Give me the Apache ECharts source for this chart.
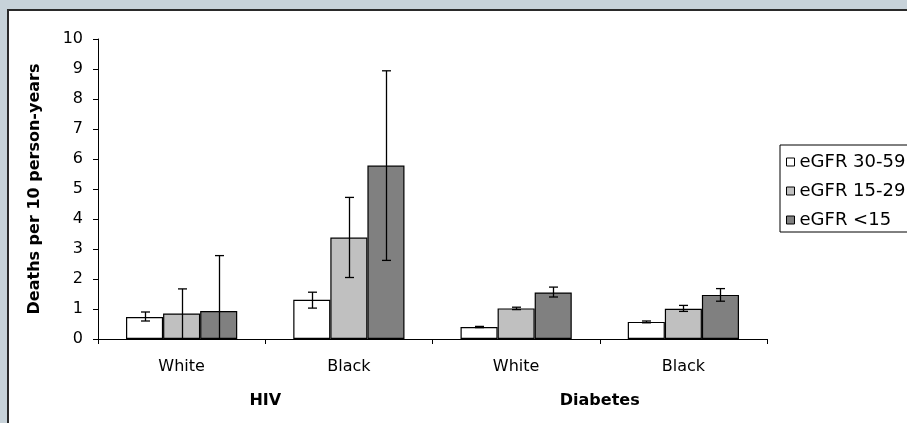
<!DOCTYPE html>
<html><head><meta charset="utf-8">
<script src="https://cdn.jsdelivr.net/npm/echarts/dist/echarts.min.js"></script>
<style>
html,body{margin:0;padding:0;width:907px;height:423px;overflow:hidden;background:#c7d2d9;}
#panel{position:absolute;left:7px;top:9px;width:1000px;height:500px;background:#fff;border-left:2px solid #2a2a2a;border-top:2px solid #2a2a2a;}
#chart{position:absolute;left:0;top:0;width:907px;height:423px;}
</style></head><body><div id="panel"></div><div id="chart"></div>
<script>
const races = ['White', 'Black', 'White', 'Black'];
const groups = ['HIV', 'Diabetes'];
const seriesNames = ['eGFR 30-59', 'eGFR 15-29', 'eGFR <15'];
const yTicks = [0, 10, 1];

const egfr3059 = [0.73, 1.31, 0.40, 0.57];
const egfr1529 = [0.85, 3.38, 1.02, 1.01];
const egfrLt15 = [0.93, 5.78, 1.55, 1.47];

const low3059 = [0.60, 1.03, 0.38, 0.54];
const high3059 = [0.90, 1.56, 0.42, 0.60];
const low1529 = [0.00, 2.05, 0.98, 0.92];
const high1529 = [1.67, 4.72, 1.06, 1.12];
const lowLt15 = [0.00, 2.62, 1.40, 1.26];
const highLt15 = [2.78, 8.94, 1.73, 1.68];

const FONT = 'DejaVu Sans';
const catGap = 0.335;
const colors = ['#ffffff', '#c0c0c0', '#808080'];
const values = [egfr3059, egfr1529, egfrLt15];
const lows = [low3059, low1529, lowLt15];
const highs = [high3059, high1529, highLt15];

function barSeries(k) {
  return {
    type: 'bar', name: seriesNames[k], data: values[k],
    barGap: '0%', barCategoryGap: (catGap * 100) + '%',
    itemStyle: { color: colors[k], borderColor: '#000', borderWidth: 1.2 },
    emphasis: { disabled: true }, z: 2
  };
}
function errSeries(k) {
  return {
    type: 'custom', name: 'err' + k, z: 10,
    encode: { x: 0, y: [1, 2] },
    data: lows[k].map((l, i) => [i, l, highs[k][i]]),
    renderItem: function (params, api) {
      const ci = api.value(0);
      const band = api.size([1, 0])[0];
      const bw = band * (1 - catGap) / 3;
      const p0 = api.coord([ci, api.value(1)]);
      const p1 = api.coord([ci, api.value(2)]);
      const x = Math.round(p0[0] + (k - 1) * bw) + 0.5;
      const h = 4.5;
      const st = { stroke: '#000', lineWidth: 1.3 };
      return { type: 'group', children: [
        { type: 'line', shape: { x1: x, y1: p0[1], x2: x, y2: p1[1] }, style: st },
        { type: 'line', shape: { x1: x - h, y1: p1[1], x2: x + h, y2: p1[1] }, style: st },
        { type: 'line', shape: { x1: x - h, y1: p0[1], x2: x + h, y2: p0[1] }, style: st }
      ] };
    }
  };
}

const chart = echarts.init(document.getElementById('chart'), null, { renderer: 'canvas' });
chart.setOption({
  animation: false,
  backgroundColor: 'transparent',
  textStyle: { fontFamily: FONT, color: '#000' },
  grid: { left: 98, right: 140, top: 39, bottom: 84, containLabel: false },
  legend: {
    data: seriesNames, orient: 'vertical', left: 780, top: 145,
    itemWidth: 8, itemHeight: 8, itemGap: 11, icon: 'rect',
    padding: [8, 40, 3, 6], borderColor: '#000', borderWidth: 1, backgroundColor: '#fff',
    itemStyle: { borderColor: '#000', borderWidth: 1 },
    textStyle: { fontFamily: FONT, fontSize: 18, color: '#000' }
  },
  xAxis: [
    { type: 'category', data: races, position: 'bottom',
      axisLine: { lineStyle: { color: '#000', width: 1 } },
      axisTick: { show: true, length: 5, lineStyle: { color: '#000' } },
      axisLabel: { fontFamily: FONT, fontSize: 16, color: '#000', margin: 20 } },
    { type: 'category', data: groups, position: 'bottom',
      axisLine: { show: false }, axisTick: { show: false },
      axisLabel: { fontFamily: FONT, fontSize: 16, fontWeight: 'bold', color: '#000', margin: 54 } }
  ],
  yAxis: {
    type: 'value', min: yTicks[0], max: yTicks[1], interval: yTicks[2],
    name: 'Deaths per 10 person-years', nameLocation: 'middle', nameGap: 55, nameRotate: 90,
    nameTextStyle: { fontFamily: FONT, fontSize: 16, fontWeight: 'bold', color: '#000' },
    axisLine: { show: true, lineStyle: { color: '#000', width: 1 } },
    axisTick: { show: true, length: 5, lineStyle: { color: '#000' } },
    splitLine: { show: false },
    axisLabel: { fontFamily: FONT, fontSize: 16, color: '#000', margin: 15 }
  },
  series: [barSeries(0), barSeries(1), barSeries(2), errSeries(0), errSeries(1), errSeries(2)]
});
</script></body></html>
